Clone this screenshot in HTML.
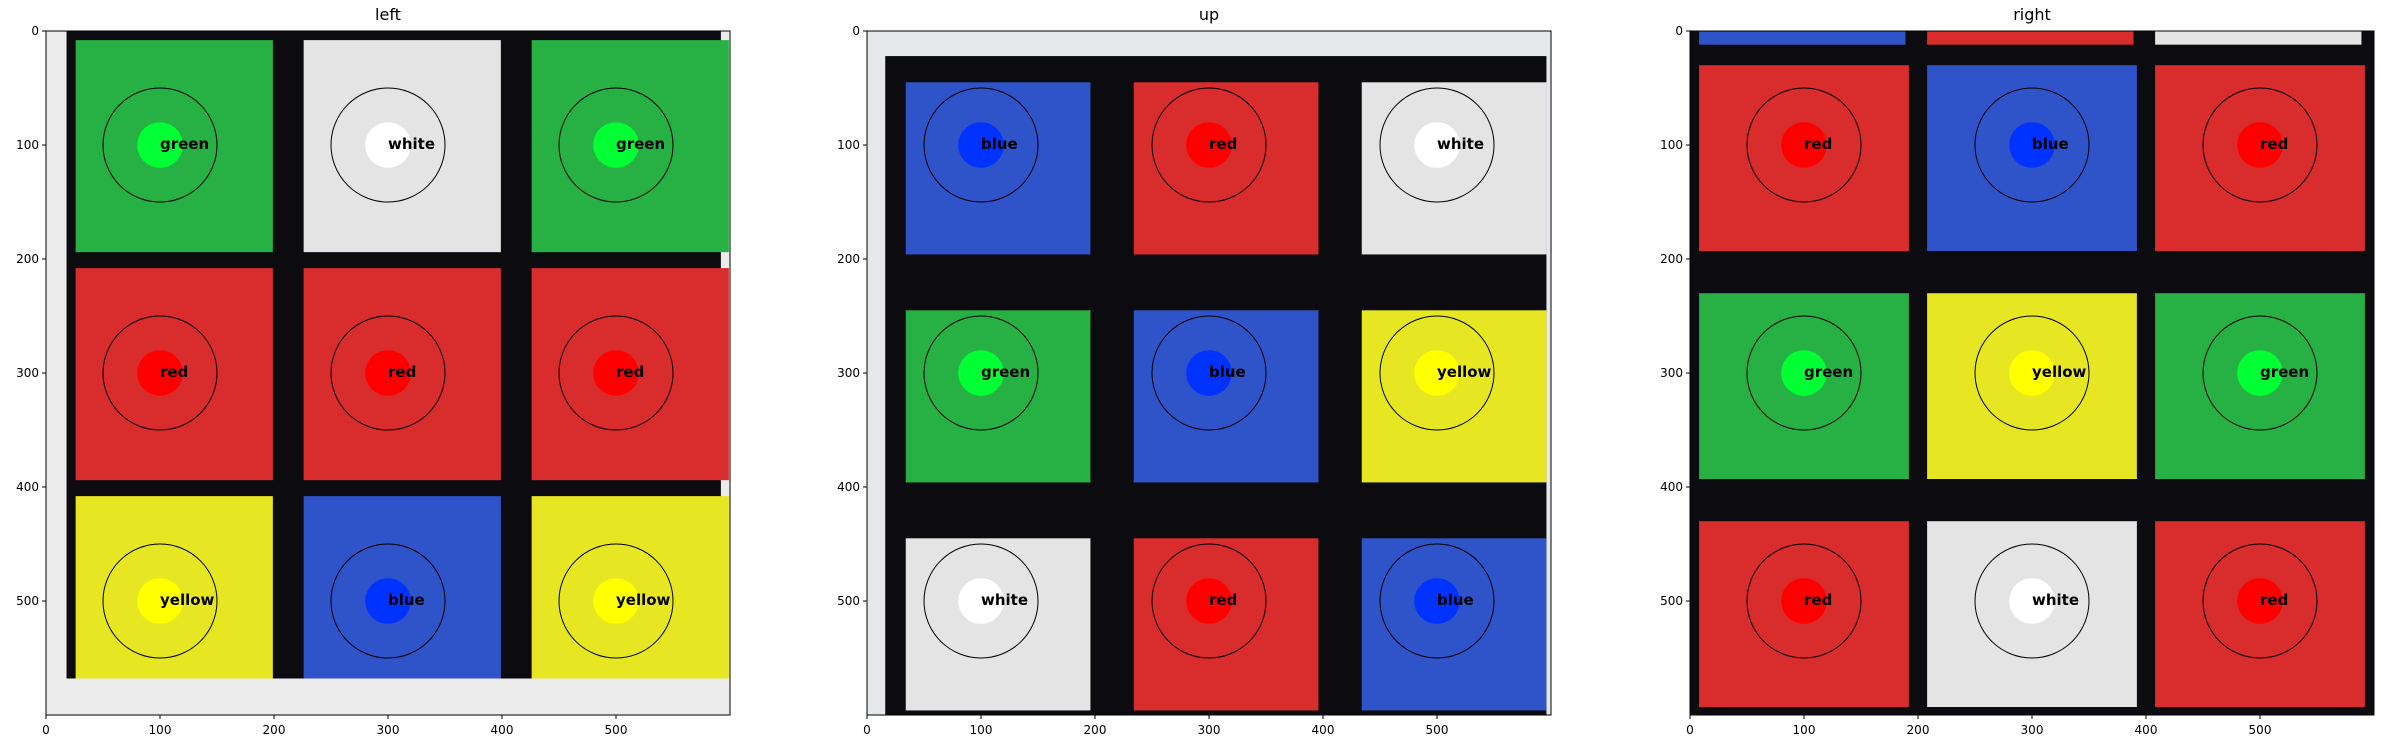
<!DOCTYPE html>
<html><head><meta charset="utf-8"><style>
html,body{margin:0;padding:0;background:#fff;}
svg{display:block;font-family:"DejaVu Sans","Liberation Sans",sans-serif;}
</style></head><body>
<svg id="fig" width="2381" height="749" viewBox="0 0 2381 749" xmlns="http://www.w3.org/2000/svg"></svg>
<script>
const panelTitles = ["left","up","right"];
const panelX = [46, 867, 1690];
const faceColors = [
  ["green","white","green","red","red","red","yellow","blue","yellow"],
  ["blue","red","white","green","blue","yellow","white","red","blue"],
  ["red","blue","red","green","yellow","green","red","white","red"]
];
const centers = [100, 300, 500];
const ticks = [0,100,200,300,400,500];
// cell extents relative to centre (data units): left, right, top, bottom
const cellBounds = [[-74,99,-92,94],[-66,96,-55,96],[-92,92,-70,93]];
// dark grid region per panel [x0,y0,x1,y1] in data units
const gridRegion = [[18,0,592,568],[16,22,596,600],[0,0,600,600]];
const panelBg = ["#ececec","#e6e7ea","#222"];
const fillColor = {green:"#27b043",white:"#e4e4e4",red:"#d92c2c",yellow:"#e6e622",blue:"#2f53c8"};
const dotColor = {green:"#00ff33",white:"#ffffff",red:"#ff0000",yellow:"#ffff00",blue:"#0033ff"};

const NS="http://www.w3.org/2000/svg";
const svg=document.getElementById('fig');
const TOP=31, SIZE=684, S=SIZE/600;
function el(tag,attrs,parent){const e=document.createElementNS(NS,tag);for(const k in attrs)e.setAttribute(k,attrs[k]);(parent||svg).appendChild(e);return e;}
const defs=el('defs',{});

panelTitles.forEach((t,p)=>{
  const x0=panelX[p];
  const sx=v=>x0+v*S, sy=v=>TOP+v*S;
  const cp=el('clipPath',{id:'clip'+p},defs);
  el('rect',{x:x0,y:TOP,width:SIZE,height:SIZE},cp);
  const g=el('g',{});
  
  
  const img=el('g',{'clip-path':'url(#clip'+p+')'},g);
  const bg=el('rect',{x:x0,y:TOP,width:SIZE,height:SIZE,fill:panelBg[p]},img);
  
  
  const gr=gridRegion[p];
  const grid=el('rect',{x:sx(gr[0]),y:sy(gr[1]),width:(gr[2]-gr[0])*S,height:(gr[3]-gr[1])*S,fill:"#0c0c10"},img);
  
  
  if(p===2){
    ["blue","red","white"].forEach((c,i)=>{
      const r=el('rect',{x:sx(centers[i]-92),y:sy(0),width:181*S,height:12*S,fill:fillColor[c]},img);
      
      
    });
  }
  const b=cellBounds[p];
  faceColors[p].forEach((c,i)=>{
    const cx=centers[i%3], cy=centers[Math.floor(i/3)];
    const r=el('rect',{x:sx(cx+b[0]),y:sy(cy+b[2]),width:(b[1]-b[0])*S,height:(b[3]-b[2])*S,fill:fillColor[c]},img);
    
    
  });
  if(p===0){
    const m=el('rect',{x:x0,y:sy(568),width:SIZE,height:32*S,fill:panelBg[0]},img);
    
    
  }
  faceColors[p].forEach((c,i)=>{
    const cx=centers[i%3], cy=centers[Math.floor(i/3)];
    const ring=el('circle',{cx:sx(cx),cy:sy(cy),r:50*S,fill:"none",stroke:"#000","stroke-width":1},img);
    
    
    const dot=el('circle',{cx:sx(cx),cy:sy(cy),r:20*S,fill:dotColor[c]},img);
    
    
    const tx=el('text',{x:sx(cx),y:sy(cy)+4,"font-size":15,"font-weight":"bold",fill:"#000"},img);
    tx.textContent=c;
    
    
  });
  const fr=el('rect',{x:x0,y:TOP,width:SIZE,height:SIZE,fill:"none",stroke:"#000","stroke-width":1},g);
  
  
  const ti=el('text',{x:x0+SIZE/2,y:20,"font-size":16,"text-anchor":"middle",fill:"#000"},g);
  ti.textContent=t;
  
  
  ticks.forEach(v=>{
    el('line',{x1:sx(v),x2:sx(v),y1:TOP+SIZE,y2:TOP+SIZE+4,stroke:"#000"},g);
    const xl=el('text',{x:sx(v),y:TOP+SIZE+19,"font-size":12,"text-anchor":"middle"},g);
    xl.textContent=v;
    
    
    el('line',{x1:x0-4,x2:x0,y1:sy(v),y2:sy(v),stroke:"#000"},g);
    const yl=el('text',{x:x0-7,y:sy(v)+4,"font-size":12,"text-anchor":"end"},g);
    yl.textContent=v;
    
    
  });
});
</script>
</body></html>
